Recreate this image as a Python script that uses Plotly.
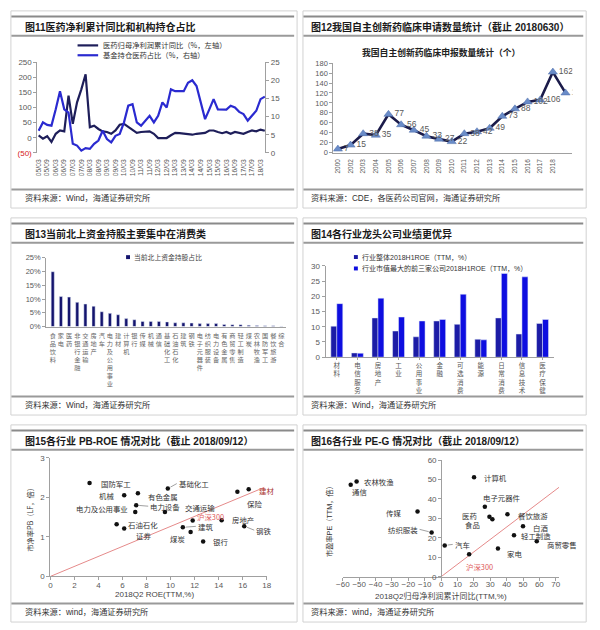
import plotly.graph_objects as go

W, H = 600, 630
NUMF = "Arial, Liberation Sans, Noto Sans CJK SC, sans-serif"
CJK = "Noto Sans CJK SC, sans-serif"
TXT = "#595959"

# ---------------- data ----------------
# Fig 11: quarterly 2005Q1 .. 2018Q2
c11_ticks = ["05/03", "05/09", "06/03", "06/09", "07/03", "07/09", "08/03", "08/09",
             "09/03", "09/09", "10/03", "10/09", "11/03", "11/09", "12/03", "12/09",
             "13/03", "13/09", "14/03", "14/09", "15/03", "15/09", "16/03", "16/09",
             "17/03", "17/09", "18/03"]
c11_profit_yoy = [7.6, -3, 5, -14, 13, 24, 21, 139, 46, 117, 160, 210, 35, 40, 29, 21, 19, 13,
                  24, 43, 46, 35, 24, 16, 19, 21, 21, 13, -1, -1, -1, 8, 16, 15, 13, 13, 10, 13,
                  15, 16, 24, 24, 19, 15, 19, 13, 19, 16, 13, 19, 24, 21, 27, 23]
c11_fund_share = [6.1, 8.4, 7.7, 7.5, 12.0, 17.0, 12.0, 11.1, 2.5, 2.0, 0.6, 1.3, 1.1, 2.5,
                  3.4, 6.1, 3.8, 2.9, 4.7, 5.2, 8.4, 13.0, 13.4, 8.4, 7.5, 8.9, 10.2, 8.4, 10.2,
                  13.9, 12.5, 17.5, 17.0, 17.0, 17.0, 19.3, 20.0, 18.4, 13.9, 9.3, 12.0, 14.8,
                  12.0, 12.0, 11.9, 13.0, 12.5, 11.3, 10.7, 8.9, 10.2, 11.6, 14.8, 15.5]
c11_names = ["医药归母净利润累计同比（%，左轴）", "基金持仓医药占比（%，右轴）"]

# Fig 12
c12_years = ["2000", "2002", "2003", "2004", "2005", "2006", "2007", "2008", "2009", "2010",
             "2011", "2012", "2013", "2014", "2015", "2016", "2017", "2018"]
c12_counts = [7, 15, 38, 35, 77, 56, 45, 33, 27, 22, 38, 42, 49, 73, 88, 102, 106, 162, 120]
c12_title = "我国自主创新药临床申报数量统计（个）"

# Fig 13
c13_industries = ["食品饮料", "家电", "医药", "非银行金融", "交通运输", "房地产", "汽车",
                  "电力及公用事业", "建材", "计算机", "银行", "传媒", "机械", "通信",
                  "基础化工", "石油石化", "建筑", "钢铁", "电子元器件", "纺织服装", "电力设备",
                  "有色金属", "商贸零售", "轻工制造", "煤炭", "农林牧渔", "国防军工",
                  "餐饮旅游", "综合"]
c13_share = [0.199, 0.109, 0.107, 0.088, 0.082, 0.074, 0.054, 0.048, 0.043, 0.029, 0.025,
             0.019, 0.019, 0.019, 0.017, 0.014, 0.014, 0.013, 0.011, 0.011, 0.011, 0.008,
             0.007, 0.007, 0.005, 0.004, 0.0035, 0.0035, 0.001]
c13_name = "当前北上资金持股占比"

# Fig 14
c14_industries = ["材料", "电信服务", "房地产", "工业", "公用事业", "金融", "可选消费",
                  "能源", "日常消费", "信息技术", "医疗保健"]
c14_overall = [10.2, 1.4, 12.9, 8.6, 6.7, 11.9, 10.8, 5.9, 12.9, 7.6, 11.1]
c14_top3 = [17.6, 1.3, 19.4, 13.2, 11.9, 12.4, 20.7, 5.7, 27.5, 26.4, 12.4]
c14_names = ["行业整体2018H1ROE（TTM，%）", "行业市值最大的前三家公司2018H1ROE（TTM，%）"]

# Fig 15
c15_names = ["国防军工", "机械", "有色金属", "基础化工", "电力设备", "电力及公用事业", "交通运输",
             "石油石化", "证券", "建筑", "沪深300", "煤炭", "银行", "房地产", "保险", "建材", "钢铁"]
c15_roe = [3.26, 6.14, 7.28, 9.77, 7.14, 7.06, 9.53, 5.51, 6.14, 11.02, 11.84, 11.67, 12.71,
           14.25, 15.56, 16.5, 16.13]
c15_pb = [2.36, 2.05, 2.10, 2.22, 1.80, 1.63, 1.63, 1.32, 1.21, 1.24, 1.41, 1.12, 0.88, 1.42,
          2.14, 2.20, 1.27]
c15_ref_x = [0, 17.8]
c15_ref_y = [0, 2.25]

# Fig 16
c16_names = ["通信", "农林牧渔", "计算机", "电子元器件", "传媒", "医药", "食品", "餐饮旅游",
             "纺织服装", "白酒", "轻工制造", "商贸零售", "汽车", "沪深300", "家电"]
c16_growth = [-55.2, -51.6, 20.1, 26.7, -14.4, 29.5, 31.3, 40.5, -5.8, 50.0, 44.5, 58.4, 2.2,
              17.1, 34.7]
c16_pe = [47.3, 49.0, 51.2, 36.0, 33.5, 30.9, 29.6, 32.1, 22.8, 25.9, 21.3, 18.3, 16.1, 11.5, 14.5]
c16_ref_x = [0, 72]
c16_ref_y = [0, 46]

# ---------------- label styles (anchor, xshift, yshift, leader) ----------------
c15_style = {
    "国防军工": ("left", 9, 0, False), "机械": ("right", -8, 0, False),
    "有色金属": ("left", 8, -3, False), "基础化工": ("left", 9, 5, True),
    "电力设备": ("left", 12, -1, True), "电力及公用事业": ("right", -5, 3, False),
    "交通运输": ("left", 18, 4, False), "石油石化": ("left", 9, 0, False),
    "证券": ("left", 10, -7, False), "建筑": ("left", 13, 1, True),
    "沪深300": ("left", 2, 4, False), "煤炭": ("right", -4, -6, False),
    "银行": ("left", 8, 0, False), "房地产": ("left", 8, 1, False),
    "保险": ("left", 8, -12, False), "建材": ("left", 8, -1, False),
    "钢铁": ("left", 10, -4, True),
}
c16_style = {
    "通信": ("left", -1, -7, False), "农林牧渔": ("left", 5, 0, False),
    "计算机": ("left", 8, 0, False), "电子元器件": ("left", -4, 9, False),
    "传媒": ("right", -15, -1, False), "医药": ("right", -10, 1, False),
    "食品": ("right", -10, -5, False), "餐饮旅游": ("left", 9, -1, False),
    "纺织服装": ("right", -12, 3, True), "白酒": ("left", 8, -1, False),
    "轻工制造": ("left", 5, 0, False), "商贸零售": ("left", 8, -3, False),
    "汽车": ("left", 8, 1, True), "沪深300": ("left", -5, -12, False),
    "家电": ("left", 7, -5, False),
}
RED_LABELS = {"沪深300": "#e05a5a", "建材": "#a8322d"}


def dx(a, b):
    return [a / W, b / W]


def dy(top, bottom):
    return [1 - bottom / H, 1 - top / H]


fig = go.Figure()

# ---- Fig 11 traces ----
q_idx = list(range(len(c11_profit_yoy)))
fig.add_trace(go.Scatter(x=q_idx, y=c11_profit_yoy, mode="lines", name=c11_names[0],
                         line=dict(color="#1e1e5a", width=2.2), xaxis="x", yaxis="y",
                         showlegend=False))
fig.add_trace(go.Scatter(x=q_idx, y=c11_fund_share, mode="lines", name=c11_names[1],
                         line=dict(color="#2a2ad0", width=2.2), xaxis="x", yaxis="y2",
                         showlegend=False))

# ---- Fig 12 ----
fig.add_trace(go.Scatter(x=list(range(len(c12_counts))), y=c12_counts,
                         mode="lines+markers+text", text=[str(v) for v in c12_counts],
                         textposition="middle right",
                         textfont=dict(size=8.5, color=TXT, family=NUMF),
                         line=dict(color="#1b1b4a", width=2.6),
                         marker=dict(symbol="triangle-up", size=8, color="#6a8cc8",
                                     line=dict(color="#4a6aa8", width=0.5)),
                         xaxis="x2", yaxis="y3", showlegend=False))

# ---- Fig 13 ----
fig.add_trace(go.Bar(x=list(range(len(c13_share))), y=c13_share, width=0.38,
                     marker=dict(color="#14146e"), name=c13_name,
                     xaxis="x3", yaxis="y4", showlegend=False))

# ---- Fig 14 ----
fig.add_trace(go.Bar(x=list(range(len(c14_overall))), y=c14_overall, width=0.29, offset=-0.29,
                     marker=dict(color="#1c1ca6"), name=c14_names[0],
                     xaxis="x4", yaxis="y5", showlegend=False))
fig.add_trace(go.Bar(x=list(range(len(c14_top3))), y=c14_top3, width=0.29, offset=0,
                     marker=dict(color="#0e0ee0"), name=c14_names[1],
                     xaxis="x4", yaxis="y5", showlegend=False))

# ---- Fig 15 ----
fig.add_trace(go.Scatter(x=c15_ref_x, y=c15_ref_y, mode="lines",
                         line=dict(color="#e58a8a", width=1), xaxis="x5", yaxis="y6",
                         showlegend=False, hoverinfo="skip"))
fig.add_trace(go.Scatter(x=c15_roe, y=c15_pb, mode="markers", text=c15_names,
                         marker=dict(color="#111111", size=4.5), xaxis="x5", yaxis="y6",
                         showlegend=False))

# ---- Fig 16 ----
fig.add_trace(go.Scatter(x=c16_ref_x, y=c16_ref_y, mode="lines",
                         line=dict(color="#e58a8a", width=1), xaxis="x6", yaxis="y7",
                         showlegend=False, hoverinfo="skip", cliponaxis=True))
fig.add_trace(go.Scatter(x=c16_growth, y=c16_pe, mode="markers", text=c16_names,
                         marker=dict(color="#111111", size=4.5), xaxis="x6", yaxis="y7",
                         showlegend=False))

axis_common = dict(showgrid=False, zeroline=False, linecolor="#a0a0a0", linewidth=1,
                   tickcolor="#a0a0a0", fixedrange=True)
tf = lambda s: dict(size=s, color=TXT, family=NUMF)

layout = dict(
    width=W, height=H, margin=dict(l=0, r=0, t=0, b=0),
    paper_bgcolor="white", plot_bgcolor="rgba(0,0,0,0)",
    font=dict(family=NUMF, color=TXT), showlegend=False,
    # Fig 11
    xaxis=dict(domain=dx(31, 263.5), range=[-0.3, 53.1], anchor="y",
               tickvals=list(range(0, 53, 2)), ticktext=c11_ticks, tickangle=-90,
               tickfont=tf(6.8), showline=False, ticks="", ticklabelstandoff=4,
               **axis_common),
    yaxis=dict(domain=dy(59, 151), range=[-50, 250], anchor="x",
               tickvals=[-50, 0, 50, 100, 150, 200, 250],
               ticktext=["<span style='color:#d62020'>(50)</span>", "0", "50", "100", "150", "200", "250"],
               showline=True, ticks="outside", ticklen=3, tickfont=tf(8), **axis_common),
    yaxis2=dict(domain=dy(59, 151), range=[0, 25], overlaying="y", side="right", anchor="x",
                tickvals=[0, 5, 10, 15, 20, 25], showline=True, ticks="outside", ticklen=3,
                tickfont=tf(8), **axis_common),
    # Fig 12
    xaxis2=dict(domain=dx(333, 577), range=[-0.36, 18.55], anchor="y3",
                tickvals=list(range(len(c12_years))), ticktext=c12_years, tickangle=-90,
                tickfont=tf(6.5), showline=True, ticks="", ticklabelstandoff=3,
                **axis_common),
    yaxis3=dict(domain=dy(60, 150.7), range=[0, 180], anchor="x2", dtick=20,
                showline=True, ticks="outside", ticklen=3, tickfont=tf(7.5), **axis_common),
    # Fig 13
    xaxis3=dict(domain=dx(40, 285), range=[-0.8, 28.6], anchor="y4",
                tickvals=list(range(len(c13_industries))),
                ticktext=["<br>".join(n) for n in c13_industries], tickangle=0,
                tickfont=dict(size=6.2, color="#666666", family=CJK), showline=True,
                ticks="", ticklabelstandoff=3, **axis_common),
    yaxis4=dict(domain=dy(257.3, 327.3), range=[0, 0.25], anchor="x3",
                tickvals=[0, 0.05, 0.10, 0.15, 0.20, 0.25], tickformat=".0%",
                showline=True, ticks="outside", ticklen=3, tickfont=tf(7.5), **axis_common),
    # Fig 14
    xaxis4=dict(domain=dx(325, 558), range=[-0.55, 10.55], anchor="y5",
                tickvals=list(range(len(c14_industries))),
                ticktext=["<br>".join(n) for n in c14_industries], tickangle=0,
                tickfont=dict(size=6.5, color="#555555", family=CJK), showline=True,
                ticks="outside", ticklen=2, **axis_common),
    yaxis5=dict(domain=dy(265.7, 358.3), range=[0, 30], anchor="x4", dtick=5,
                showline=True, ticks="outside", ticklen=3, tickfont=tf(8), **axis_common),
    # Fig 15
    xaxis5=dict(domain=dx(44.3, 265), range=[0, 18], anchor="y6", dtick=2,
                showline=True, ticks="outside", ticklen=3, tickfont=tf(8),
                ticklabelstandoff=-2, **axis_common),
    yaxis6=dict(domain=dy(460.3, 580.7), range=[0, 3], anchor="x5", dtick=1,
                showline=True, ticks="outside", ticklen=3, tickfont=tf(8), **axis_common),
    # Fig 16
    xaxis6=dict(domain=dx(342.7, 563.3), range=[-60, 72], anchor="y7",
                tickvals=list(range(-60, 71, 10)), showline=True, ticks="outside", ticklen=3,
                tickfont=tf(8), ticklabelstandoff=-3, **axis_common),
    yaxis7=dict(domain=dy(462.7, 581), range=[0, 60], anchor="free", position=443 / W,
                dtick=10, showline=True, ticks="outside", ticklen=3, tickfont=tf(8),
                **axis_common),
)
fig.update_layout(**layout)

shapes = []
annotations = []


def P(x, y):
    return x / W, 1 - y / H


def hline(x0, x1, y, color, width):
    a, b = P(x0, y)
    c, _ = P(x1, y)
    shapes.append(dict(type="line", xref="paper", yref="paper", x0=a, x1=c, y0=b, y1=b,
                       line=dict(color=color, width=width)))


def text(x, y, s, size, color="#222222", anchor="left", family=CJK, **kw):
    a, b = P(x, y)
    annotations.append(dict(xref="paper", yref="paper", x=a, y=b, text=s, showarrow=False,
                            xanchor=anchor, yanchor="middle",
                            font=dict(size=size, color=color, family=family), **kw))


# ---- panel frames ----
panels = [
    (4, 296, 7, 16.7, "图11医药净利累计同比和机构持仓占比", "资料来源：Wind，海通证券研究所"),
    (302, 591, 7, 308.5, "图12我国自主创新药临床申请数量统计（截止 20180630）",
     "资料来源：CDE，各医药公司官网，海通证券研究所"),
    (4, 296, 217, 16.7, "图13当前北上资金持股主要集中在消费类", "资料来源：Wind，海通证券研究所"),
    (302, 591, 217, 308.5, "图14各行业龙头公司业绩更优异", "资料来源：Wind，海通证券研究所"),
    (4, 296, 427, 16.7, "图15各行业 PB-ROE 情况对比（截止 2018/09/12）", "资料来源：wind，海通证券研究所"),
    (302, 591, 427, 308.5, "图16各行业 PE-G 情况对比（截止 2018/09/12）", "资料来源：wind，海通证券研究所"),
]
for x0, x1, y0, tx, title, src in panels:
    a, b = P(x0, y0)
    c, d = P(x1, y0 + 200)
    shapes.append(dict(type="rect", xref="paper", yref="paper", x0=a, x1=c, y0=d, y1=b,
                       line=dict(color="#d2d2d2", width=1)))
    hline(x0 + 0.5, x1 - 3, y0 + 5.8, "#8a8a8a", 2)
    hline(x0 + 0.5, x1 - 3, y0 + 25.3, "#9a9a9a", 2)
    hline(x0 + 0.5, x1 - 3, y0 + 181.3, "#9a9a9a", 2)
    text(tx, y0 + 16.3, "<b>" + title + "</b>", 10, color="#1a1a1a", family=NUMF)
    text(tx, y0 + 190, src, 8.2, color="#333333", family=NUMF)

# ---- Fig 11 legend ----
for nm, col, yy in [(c11_names[0], "#1e1e5a", 42), (c11_names[1], "#2a2ad0", 52)]:
    hline(72, 93, yy, col, 2.2)
    text(96, yy, nm, 7.3, color="#333333")

# ---- Fig 12 title ----
text(443, 49, "<b>" + c12_title + "</b>", 8.8, color="#222222", anchor="center")

# ---- Fig 13 legend ----
a, b = P(121.5, 254.8)
c, d = P(125.5, 258.8)
shapes.append(dict(type="rect", xref="paper", yref="paper", x0=a, x1=c, y0=d, y1=b,
                   fillcolor="#14146e", line=dict(width=0)))
text(128, 257, c13_name, 6.8, color="#444444")

# ---- Fig 14 legend ----
for nm, col, yy in [(c14_names[0], "#1c1ca6", 256.7), (c14_names[1], "#0e0ee0", 268.3)]:
    a, b = P(354, yy - 2)
    c, d = P(358, yy + 2)
    shapes.append(dict(type="rect", xref="paper", yref="paper", x0=a, x1=c, y0=d, y1=b,
                       fillcolor=col, line=dict(width=0)))
    text(360, yy, nm, 7, color="#333333", family=NUMF)


# ---- scatter labels ----
def scatter_labels(names, xs, ys, style, xref, yref):
    for nm, xv, yv in zip(names, xs, ys):
        anc, xs_, ys_, leader = style[nm]
        col = RED_LABELS.get(nm, "#333333")
        font = dict(size=7.4, color=col, family=CJK)
        if leader:
            annotations.append(dict(xref=xref, yref=yref, x=xv, y=yv, text=nm,
                                    showarrow=True, arrowhead=0, arrowwidth=0.7,
                                    arrowcolor="#777777", ax=xs_, ay=-ys_, axref="pixel",
                                    ayref="pixel", standoff=3, xanchor=anc,
                                    yanchor="middle", font=font))
        else:
            annotations.append(dict(xref=xref, yref=yref, x=xv, y=yv, text=nm,
                                    showarrow=False, xanchor=anc, yanchor="middle",
                                    xshift=xs_, yshift=ys_, font=font))


scatter_labels(c15_names, c15_roe, c15_pb, c15_style, "x5", "y6")
scatter_labels(c16_names, c16_growth, c16_pe, c16_style, "x6", "y7")

# axis titles
text(150, 599.5, "2018Q2 ROE(TTM,%)", 8, color="#444444", anchor="center", family=NUMF)
text(22.5, 522, "市净率PB（LF，倍）", 7.2, color="#333333", anchor="center", textangle=-90)
text(443, 600.5, "2018Q2归母净利润累计同比(TTM,%)", 8, color="#444444", anchor="center",
     family=NUMF)
text(329, 523, "市盈率PE（TTM，倍）", 7.2, color="#333333", anchor="center", textangle=-90,
     family=NUMF)

fig.update_layout(shapes=shapes, annotations=annotations)
fig.write_html("out.html", config={"displayModeBar": False},
               post_script="document.body.style.margin='0px';document.body.style.overflow='hidden';")
